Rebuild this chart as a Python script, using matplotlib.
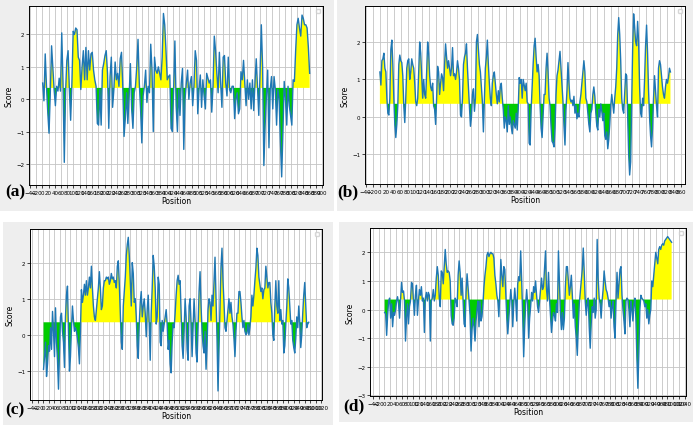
import matplotlib
matplotlib.use('Agg')
import matplotlib.pyplot as plt
from matplotlib.patches import Rectangle
from matplotlib.ticker import MultipleLocator
import numpy as np

score_a = [0.5, -0.05, 1.4, 0.4, -0.4, -1.05, 0.2, 1.65, 1.0, 0.3, -0.2, 0.4, 0.25, 0.65, 0.25, 2.05,
           0.5, -1.95, 0.2, 1.2, 1.5, 0.3, -0.65, 0.5, 2.1, 2.0, 2.2, 2.15, 1.3, 1.2, 0.3, 1.0, 1.5,
           0.6, 1.6, 0.6, 1.5, 0.9, 1.4, 1.45, 0.9, 0.6, 0.4, -0.75, -0.8, 0.3, -0.8, 0.9, 1.1, 1.35,
           1.5, 0.8, -0.9, 0.7, 1.3, -0.25, 0.3, 1.15, 0.6, 0.8, 0.4, 1.25, 1.45, 0.4, -1.15, -0.6,
           0.2, -0.75, 0.1, 1.1, -0.3, -0.9, 0.2, 0.4, 1.0, 1.85, 0.5, -0.3, -1.35, 0.1, 0.4, 0.9,
           -0.1, 0.4, 0.2, 1.7, 0.9, -1.0, 1.3, 0.9, 0.8, 1.0, 0.8, 0.6, 1.3, 2.65, 2.3, 1.5, 0.6,
           0.7, 0.75, -0.9, -1.0, 0.3, 1.8, -0.2, -1.0, 0.3, -0.5, 0.5, 0.95, -1.55, 0.0, 0.5, 0.9,
           0.0, 0.5, 0.7, -0.2, 0.4, 1.5, 1.2, -0.45, 0.3, 0.75, -0.25, 0.6, 0.1, -0.3, 0.8, 0.65,
           0.5, 0.6, -0.4, 0.4, 1.95, 1.5, 0.8, 0.2, 1.45, 0.5, -0.25, 1.3, 1.35, 0.5, 0.1, 1.3,
           0.3, 0.2, 0.4, 0.4, -0.6, 0.0, 0.2, -0.45, -0.3, 0.85, 0.6, 1.2, 0.5, -0.2, 0.6, 0.0,
           0.5, -0.3, 0.6, -0.35, 0.5, 1.25, 0.4, -0.5, 0.8, 2.3, 1.0, -2.05, -0.8, 0.1, 0.9, -1.5,
           0.3, 0.7, -0.3, 0.7, 0.3, -0.8, 0.3, 0.0, -1.3, -2.4, -1.0, 0.55, 0.0, -0.8, 0.4, -0.2,
           -0.5, -0.8, 0.6, 0.55, 1.5, 2.3, 2.5, 2.2, 1.95, 2.6, 2.5, 2.3, 2.3, 2.2, 1.6, 0.8]

score_b = [1.2, 0.85, 1.5, 1.55, 1.7, 1.3, 1.2, 0.5, 0.1, 0.05, 0.5, 1.8, 2.05, 1.4, 0.5, -0.2,
           -0.55, -0.2, 0.3, 1.4, 1.65, 1.5, 1.45, 1.1, 0.3, -0.15, 0.5, 1.3, 1.5, 1.55, 1.0, 1.2,
           1.55, 1.4, 1.3, 0.9, 0.4, 0.3, 0.5, 1.2, 2.0, 1.7, 1.1, 0.5, 1.0, 0.6, 0.5, 1.2, 2.0,
           1.7, 1.1, 0.8, 0.7, 0.9, 0.3, 0.2, -0.2, 0.5, 1.35, 1.2, 0.6, 0.9, 1.15, 1.05, 0.7, 1.4,
           1.95, 1.6, 1.3, 1.5, 1.3, 1.1, 1.3, 1.85, 1.1, 1.15, 1.0, 1.2, 1.5, 1.3, 1.0, 0.05, 0.0,
           0.5, 1.4, 1.6, 1.7, 1.95, 1.3, 0.8, 0.3, -0.25, 0.0, 0.6, 0.75, 0.15, 0.5, 2.0, 2.2, 1.8,
           1.4, 1.2, 0.8, 0.4, -0.4, 0.5, 1.3, 1.6, 2.05, 1.4, 0.9, 0.5, 0.3, 0.9, 1.1, 1.2, 0.9,
           0.6, 0.35, 0.7, 0.4, 0.8, 0.9, 0.5, 0.2, -0.3, 0.0, -0.1, -0.4, 0.3, -0.2, 0.0, -0.25,
           -0.45, -0.1, -0.2, -0.3, 0.1, -0.35, 0.2, 1.05, 0.9, 1.0, 0.5, 1.0, 0.85, 0.7, 0.9, 0.4,
           0.35, -0.7, -0.75, 0.2, 0.8, 1.4, 1.9, 2.1, 1.6, 1.2, 1.4, 1.1, 0.3, -0.3, -0.55, 0.0,
           0.6, 0.6, 1.3, 1.7, 1.2, 0.5, 0.3, -0.25, -0.65, -0.7, -0.8, -0.3, 0.6, 1.1, 1.25, 1.5,
           1.75, 1.3, 0.9, 0.4, -0.25, -0.75, 0.2, 0.7, 1.45, 0.9, 0.5, 0.4, 0.45, 0.3, 0.55, 0.1,
           0.3, -0.05, 0.1, 0.0, 0.4, 0.6, 0.9, 1.2, 1.5, 1.2, 0.5, 0.4, 0.1, -0.2, -0.4, 0.1, 0.2,
           0.6, 0.8, 0.55, 0.1, -0.25, -0.35, 0.2, 0.0, 0.35, 0.15, -0.1, 0.1, -0.5, -0.6, -0.4,
           -0.85, -0.6, -0.2, 0.3, 0.6, 0.35, 0.1, 0.5, 0.8, 1.3, 2.2, 2.65, 2.2, 1.5, 0.5, 0.2,
           0.1, 0.6, 1.15, 1.1, 0.0, -1.0, -1.55, -1.2, 0.3, 1.8, 2.75, 2.4, 2.0, 1.9, 2.55, 2.0,
           0.8, 0.1, 0.0, 0.5, 0.3, 1.0, 1.9, 2.45, 1.7, 0.7, 0.0, -0.5, -0.8, -0.3, 0.5, 1.1, 0.7,
           0.3, 0.0, 1.3, 1.5, 1.4, 1.1, 0.8, 0.6, 0.5, 0.8, 1.0, 0.9, 1.05, 1.3, 1.2]

score_c = [-0.95, -0.6, -0.2, -1.15, -0.8, -0.3, -0.45, 0.2, -0.4, 0.65, 0.1, -0.6, 0.75, -0.2,
           -0.7, -1.5, -0.5, 0.5, 0.6, 0.1, -0.2, -0.9, 0.5, 1.1, 1.35, 0.1, -1.0, -0.6, 0.2, 0.8,
           0.4, 0.1, 0.2, 0.1, -0.1, -0.35, -0.8, 0.1, 1.25, 0.9, 1.1, 1.4, 1.1, 1.5, 1.1, 1.3, 1.6,
           1.3, 1.9, 1.3, 0.8, 0.5, 0.4, 0.7, 1.0, 1.3, 1.75, 1.3, 0.7, 0.8, 1.3, 1.5, 1.5, 1.6,
           1.55, 1.6, 1.4, 1.5, 1.7, 1.55, 1.6, 1.45, 1.5, 1.3, 1.9, 2.05, 1.4, 0.6, -0.2, -0.4,
           0.8, 1.2, 1.6, 2.2, 2.5, 2.7, 2.2, 1.5, 0.8, 2.0, 1.7, 0.9, 1.0, 0.5, -0.3, -0.65, 0.3,
           0.9, 1.2, 0.5, 0.8, 1.0, 0.6, -0.05, 0.7, 1.1, 0.3, -0.7, 0.6, 1.3, 2.2, 1.9, 1.3, 0.3,
           0.5, 1.6, 1.4, -0.2, -0.3, 0.4, 0.1, 0.3, 0.5, 0.7, 0.3, -0.4, -0.15, -0.8, -1.05, -0.2,
           0.3, 0.2, 0.6, 1.1, 1.5, 1.65, 1.4, 1.5, 0.6, -0.3, -0.65, 0.1, 1.0, 0.5, -0.4, -0.7,
           0.8, 1.0, 0.3, -0.6, 0.2, 1.0, 0.4, -0.5, -0.75, 0.2, 1.2, 1.75, 0.8, 0.1, -0.3, -0.5,
           0.1, -0.95, -0.3, 0.7, 1.0, 0.9, 0.4, 1.1, 0.8, 1.5, 2.15, 1.0, -0.1, -1.55, -0.4, 0.7,
           1.9, 2.4, 1.5, 0.9, 0.2, 0.1, 0.4, 0.7, 1.0, 0.6, 0.9, 0.5, 0.3, -0.1, -0.6, 0.1, 0.6,
           0.6, 1.2, 1.2, 0.9, 0.5, 0.2, 0.4, 0.1, 0.0, 0.05, 0.3, 0.0, 0.2, 0.5, 1.1, 0.8, 1.1,
           1.5, 1.85, 2.4, 2.2, 1.6, 1.4, 1.2, 1.3, 1.0, 1.25, 1.3, 1.9, 1.6, 1.3, 1.45, 1.45, 0.9,
           0.6, 0.0, -0.15, 0.8, 1.5, 0.8, 0.6, 1.5, 0.4, 0.7, 0.3, 0.4, -0.5, -0.3, 0.3, 0.8, 1.55,
           1.3, 0.8, 0.3, 0.4, -0.15, -0.35, -0.5, -0.1, 0.5, 0.2, 0.8, 0.35, -0.35, 0.0, 0.6, 1.1,
           1.45, 0.8, 0.2, 0.3, 0.35]

score_d = [-0.1, -0.15, -0.9, -0.2, 0.3, 0.4, -0.3, 0.2, -0.6, -0.1, -0.2, 0.0, 0.3, 0.45, 0.2,
           -0.3, 0.3, 0.95, 0.6, 0.65, 0.3, -1.1, -0.3, 0.2, -0.5, 0.1, 0.3, 0.95, 0.9, 0.3, -0.2,
           0.5, 0.85, -0.2, 0.3, 0.7, 0.5, 0.8, 0.3, 0.4, -0.8, 0.4, 0.6, 0.3, 0.6, 0.5, -1.1, 0.3,
           0.4, 0.7, 0.3, 0.5, 1.1, 1.5, 1.2, 0.4, 0.1, 1.35, 1.3, 0.9, 1.5, 2.1, 1.6, 1.3, 1.35,
           1.3, 1.0, -0.2, -0.5, -0.55, -0.3, 0.4, 0.3, 0.1, 1.2, 1.7, 1.3, 0.5, 1.1, 0.3, -0.5,
           -0.6, 0.6, 1.25, 0.8, 0.3, -0.2, -1.45, -0.7, -0.3, -0.6, -1.1, -0.4, 0.0, 0.3, -0.6,
           0.3, -0.4, -0.25, 0.2, 0.8, 1.2, 1.5, 1.9, 2.0, 1.85, 1.95, 2.0, 1.95, 1.95, 1.8, 1.2,
           0.9, 0.5, 0.3, -0.25, 0.6, 1.75, 1.2, 0.8, 1.5, 1.4, 0.5, -0.3, -0.85, -0.3, 0.2, 0.7,
           0.3, -0.6, 0.2, 0.75, 0.3, -0.4, 0.9, 1.15, 1.0, 2.05, 1.0, -0.2, -1.65, -0.6, 0.2, 0.7,
           0.2, -1.0, -0.3, 0.1, 0.6, 0.3, 0.8, 0.6, 1.0, 0.5, 0.1, -0.1, 0.3, 0.7, 1.1, 0.7, 0.8,
           1.4, 2.05, 0.7, 0.3, 1.3, 0.4, -0.2, -0.8, -0.4, -0.1, -0.2, -0.4, 0.2, -0.1, 2.05, 1.0,
           -0.1, -0.7, -0.1, -0.7, -0.3, 0.8, 1.5, 1.5, 1.0, 0.5, 0.8, 1.2, 0.5, -0.3, 0.2, -0.6,
           -1.0, -1.6, -0.6, 0.2, 0.6, 1.0, 1.4, 2.15, 1.3, 0.3, -0.2, 0.2, 0.4, -0.6, -1.35, -0.5,
           0.1, -0.1, 0.4, -0.3, 0.0, 2.45, 1.1, 0.4, 0.2, -0.3, 0.3, 0.7, 1.35, 1.0, 0.7, 0.6, 0.4,
           0.1, 0.3, -0.3, 0.1, 0.3, -0.6, -1.0, 0.3, 1.3, 0.4, 0.9, 1.4, 1.5, 0.5, 0.0, -0.4,
           -0.85, 0.3, 0.4, 0.35, 0.0, -0.6, 0.3, 0.0, -0.4, 0.15, 0.4, -0.3, -1.7, -2.75, -1.5,
           0.0, 0.5, 0.4, 0.35, 0.3, 0.1, 0.2, -0.3, 0.0, -0.5, -0.2, 0.0, 1.0, 0.8, 1.2, 1.6, 2.0,
           1.8, 1.6, 2.1, 2.2, 2.1, 2.25, 2.3, 2.25, 2.4, 2.45, 2.5, 2.55, 2.5, 2.45, 2.4, 2.35]

seq_len = {'a': 860, 'b': 830, 'c': 975, 'd': 995}
threshold = 0.35
ylims = {'a': (-2.65, 2.88), 'b': (-1.79, 2.96), 'c': (-1.8, 2.93), 'd': (-3.02, 2.85)}

W, H = 698, 427
fig = plt.figure(figsize=(W / 100, H / 100), dpi=100)


def frac(x0, y0, x1, y1):
    # pixel box (top-left origin) -> figure fraction rect
    return [x0 / W, 1 - y1 / H, (x1 - x0) / W, (y1 - y0) / H]


# grey window backgrounds of the four screenshots
for x0, y0, x1, y1 in [(0, 0, 334, 212), (337, 0, 693, 212), (3, 223, 333, 426), (339, 223, 693, 423)]:
    r = frac(x0, y0, x1, y1)
    fig.patches.append(Rectangle((r[0], r[1]), r[2], r[3], transform=fig.transFigure,
                                 facecolor='#eeeeee', edgecolor='none', zorder=-5))

panels = [('a', score_a, (29, 7, 323, 186), (15, 192)),
          ('b', score_b, (365, 7, 685, 185), (348, 192)),
          ('c', score_c, (30, 230, 322, 401), (15, 410)),
          ('d', score_d, (370, 229, 686, 397), (354, 406))]

for key, vals, box, lab in panels:
    y = np.array(vals)
    D = seq_len[key]
    x = np.linspace(1, D, len(y))
    ax = fig.add_axes(frac(*box))
    ax.fill_between(x, y, threshold, where=y >= threshold, interpolate=True,
                    color='#ffff00', lw=0)
    ax.fill_between(x, y, threshold, where=y < threshold, interpolate=True,
                    color='#00cc00', lw=0)
    ax.plot(x, y, color='#1f77b4', lw=1.0)
    ax.set_xlim(-0.05 * D, 1.05 * D)
    ax.set_ylim(*ylims[key])
    ax.xaxis.set_major_locator(MultipleLocator(20))
    ax.yaxis.set_major_locator(MultipleLocator(1))
    ax.grid(True, color='#c4c4c4', lw=0.6)
    ax.set_axisbelow(True)
    ax.tick_params(labelsize=4, length=2, width=0.5, pad=1.5)
    ax.set_xlabel('Position', fontsize=5.5, labelpad=1)
    ax.set_ylabel('Score', fontsize=5.5, labelpad=2)
    for s in ax.spines.values():
        s.set_linewidth(0.7)
    ax.legend(handles=[], loc='upper right', fontsize=4)
    fig.text(lab[0] / W, 1 - lab[1] / H, '(%s)' % key, fontsize=12.5, fontweight='bold',
             family='Liberation Serif', ha='center', va='center')

fig.savefig('out.png', dpi=100)
